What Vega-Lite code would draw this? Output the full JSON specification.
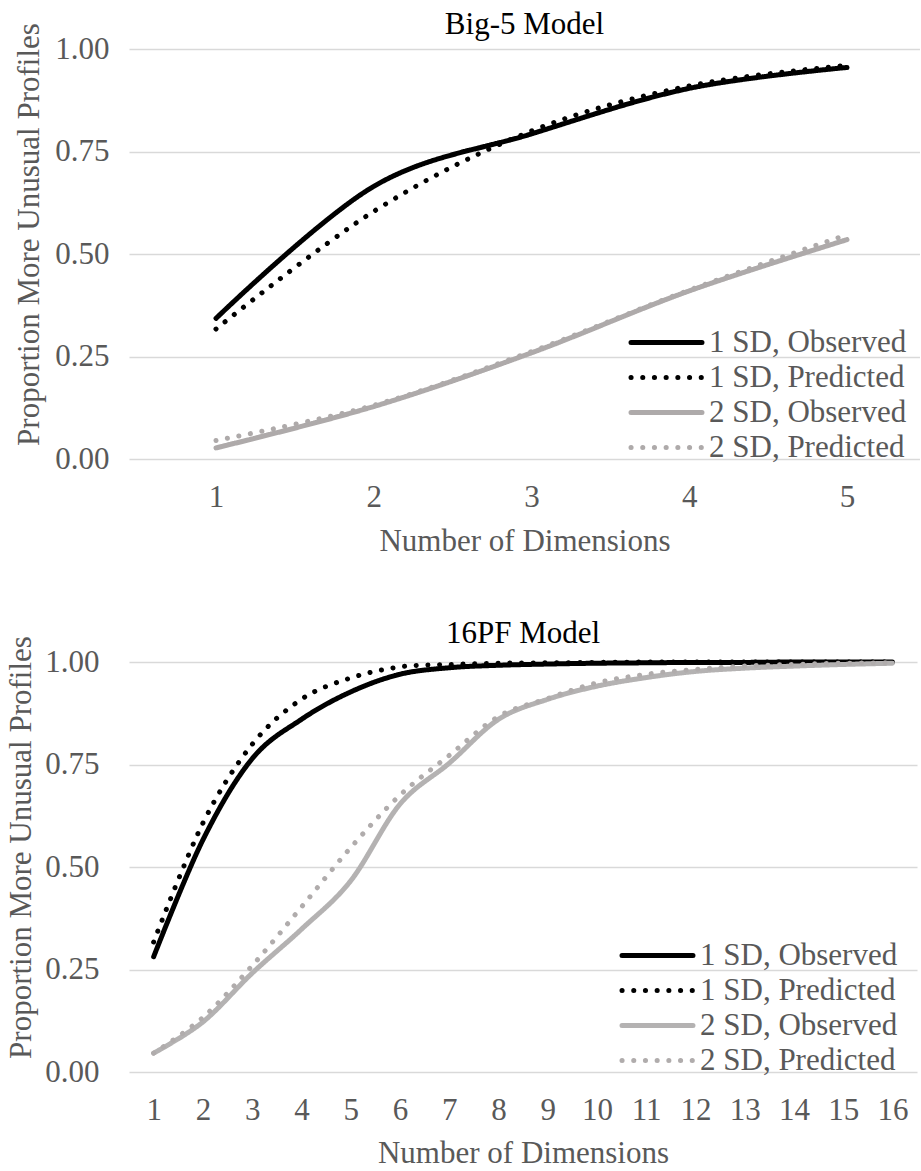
{
  "$schema": "https://vega.github.io/schema/vega-lite/v6.json",
  "background": "white",
  "padding": {"left": 5, "top": 8, "right": 0, "bottom": 0},
  "config": {
    "font": "Liberation Serif",
    "view": {"stroke": null},
    "title": {"font": "Liberation Serif", "fontSize": 31, "fontWeight": "normal", "color": "#000000", "baseline": "alphabetic", "anchor": "middle"},
    "axis": {"labelFont": "Liberation Serif", "titleFont": "Liberation Serif", "labelFontSize": 31, "titleFontSize": 31, "labelColor": "#595959", "titleColor": "#595959", "titleFontWeight": "normal", "domain": false, "ticks": false, "gridColor": "#d9d9d9", "gridWidth": 1.5},
    "legend": {"labelFont": "Liberation Serif", "labelFontSize": 31, "labelColor": "#595959", "labelLimit": 400, "symbolSize": 676, "symbolStrokeWidth": 5, "rowPadding": 3, "padding": 0, "title": null}
  },
  "datasets": {
    "big5": [
      {"x": 1, "series": "1 SD, Observed", "p": 0.343},
      {"x": 2, "series": "1 SD, Observed", "p": 0.665},
      {"x": 3, "series": "1 SD, Observed", "p": 0.793},
      {"x": 4, "series": "1 SD, Observed", "p": 0.904},
      {"x": 5, "series": "1 SD, Observed", "p": 0.955},
      {"x": 1, "series": "1 SD, Predicted", "p": 0.317},
      {"x": 2, "series": "1 SD, Predicted", "p": 0.604},
      {"x": 3, "series": "1 SD, Predicted", "p": 0.8},
      {"x": 4, "series": "1 SD, Predicted", "p": 0.91},
      {"x": 5, "series": "1 SD, Predicted", "p": 0.96},
      {"x": 1, "series": "2 SD, Observed", "p": 0.027},
      {"x": 2, "series": "2 SD, Observed", "p": 0.128},
      {"x": 3, "series": "2 SD, Observed", "p": 0.259},
      {"x": 4, "series": "2 SD, Observed", "p": 0.41},
      {"x": 5, "series": "2 SD, Observed", "p": 0.535},
      {"x": 1, "series": "2 SD, Predicted", "p": 0.045},
      {"x": 2, "series": "2 SD, Predicted", "p": 0.131},
      {"x": 3, "series": "2 SD, Predicted", "p": 0.262},
      {"x": 4, "series": "2 SD, Predicted", "p": 0.412},
      {"x": 5, "series": "2 SD, Predicted", "p": 0.547}
    ],
    "pf16": [
      {"x": 1, "series": "1 SD, Observed", "p": 0.281},
      {"x": 2, "series": "1 SD, Observed", "p": 0.566},
      {"x": 3, "series": "1 SD, Observed", "p": 0.764},
      {"x": 4, "series": "1 SD, Observed", "p": 0.86},
      {"x": 5, "series": "1 SD, Observed", "p": 0.927},
      {"x": 6, "series": "1 SD, Observed", "p": 0.97},
      {"x": 7, "series": "1 SD, Observed", "p": 0.986},
      {"x": 8, "series": "1 SD, Observed", "p": 0.992},
      {"x": 9, "series": "1 SD, Observed", "p": 0.995},
      {"x": 10, "series": "1 SD, Observed", "p": 0.997},
      {"x": 11, "series": "1 SD, Observed", "p": 0.998},
      {"x": 12, "series": "1 SD, Observed", "p": 0.999},
      {"x": 13, "series": "1 SD, Observed", "p": 0.999},
      {"x": 14, "series": "1 SD, Observed", "p": 1.0},
      {"x": 15, "series": "1 SD, Observed", "p": 1.0},
      {"x": 16, "series": "1 SD, Observed", "p": 1.0},
      {"x": 1, "series": "1 SD, Predicted", "p": 0.317},
      {"x": 2, "series": "1 SD, Predicted", "p": 0.607},
      {"x": 3, "series": "1 SD, Predicted", "p": 0.799},
      {"x": 4, "series": "1 SD, Predicted", "p": 0.909},
      {"x": 5, "series": "1 SD, Predicted", "p": 0.961},
      {"x": 6, "series": "1 SD, Predicted", "p": 0.988},
      {"x": 7, "series": "1 SD, Predicted", "p": 0.994},
      {"x": 8, "series": "1 SD, Predicted", "p": 0.997},
      {"x": 9, "series": "1 SD, Predicted", "p": 0.998},
      {"x": 10, "series": "1 SD, Predicted", "p": 0.999},
      {"x": 11, "series": "1 SD, Predicted", "p": 1.0},
      {"x": 12, "series": "1 SD, Predicted", "p": 1.0},
      {"x": 13, "series": "1 SD, Predicted", "p": 1.0},
      {"x": 14, "series": "1 SD, Predicted", "p": 1.0},
      {"x": 15, "series": "1 SD, Predicted", "p": 1.0},
      {"x": 16, "series": "1 SD, Predicted", "p": 1.0},
      {"x": 1, "series": "2 SD, Observed", "p": 0.046},
      {"x": 2, "series": "2 SD, Observed", "p": 0.122},
      {"x": 3, "series": "2 SD, Observed", "p": 0.241},
      {"x": 4, "series": "2 SD, Observed", "p": 0.348},
      {"x": 5, "series": "2 SD, Observed", "p": 0.466},
      {"x": 6, "series": "2 SD, Observed", "p": 0.653},
      {"x": 7, "series": "2 SD, Observed", "p": 0.753},
      {"x": 8, "series": "2 SD, Observed", "p": 0.86},
      {"x": 9, "series": "2 SD, Observed", "p": 0.909},
      {"x": 10, "series": "2 SD, Observed", "p": 0.941},
      {"x": 11, "series": "2 SD, Observed", "p": 0.962},
      {"x": 12, "series": "2 SD, Observed", "p": 0.977},
      {"x": 13, "series": "2 SD, Observed", "p": 0.985},
      {"x": 14, "series": "2 SD, Observed", "p": 0.99},
      {"x": 15, "series": "2 SD, Observed", "p": 0.994},
      {"x": 16, "series": "2 SD, Observed", "p": 0.997},
      {"x": 1, "series": "2 SD, Predicted", "p": 0.046},
      {"x": 2, "series": "2 SD, Predicted", "p": 0.133},
      {"x": 3, "series": "2 SD, Predicted", "p": 0.259},
      {"x": 4, "series": "2 SD, Predicted", "p": 0.402},
      {"x": 5, "series": "2 SD, Predicted", "p": 0.547},
      {"x": 6, "series": "2 SD, Predicted", "p": 0.675},
      {"x": 7, "series": "2 SD, Predicted", "p": 0.772},
      {"x": 8, "series": "2 SD, Predicted", "p": 0.867},
      {"x": 9, "series": "2 SD, Predicted", "p": 0.911},
      {"x": 10, "series": "2 SD, Predicted", "p": 0.949},
      {"x": 11, "series": "2 SD, Predicted", "p": 0.97},
      {"x": 12, "series": "2 SD, Predicted", "p": 0.982},
      {"x": 13, "series": "2 SD, Predicted", "p": 0.99},
      {"x": 14, "series": "2 SD, Predicted", "p": 0.994},
      {"x": 15, "series": "2 SD, Predicted", "p": 0.997},
      {"x": 16, "series": "2 SD, Predicted", "p": 0.998}
    ]
  },
  "resolve": {
    "scale": {"x": "independent", "y": "independent", "color": "independent", "strokeDash": "independent"},
    "legend": {"color": "independent", "strokeDash": "independent"}
  },
  "spacing": 61,
  "vconcat": [
    {
      "width": 791,
      "height": 410,
      "title": {"text": "Big-5 Model", "offset": -18},
      "data": {"name": "big5"},
      "mark": {"type": "line", "interpolate": "cardinal", "strokeWidth": 5, "strokeCap": "round", "strokeJoin": "round"},
      "encoding": {
        "x": {"field": "x", "type": "quantitative", "scale": {"domain": [0.4485, 5.4628], "nice": false, "zero": false},
              "axis": {"values": [1, 2, 3, 4, 5], "grid": false, "title": "Number of Dimensions", "labelPadding": 23, "titlePadding": 14, "format": "d"}},
        "y": {"field": "p", "type": "quantitative", "scale": {"domain": [0, 1], "nice": false},
              "axis": {"values": [0, 0.25, 0.5, 0.75, 1], "format": ".2f", "title": "Proportion More Unusual Profiles", "labelPadding": 20, "titlePadding": 9, "titleY": 185}},
        "color": {"field": "series", "type": "nominal",
                  "scale": {"domain": ["1 SD, Observed", "1 SD, Predicted", "2 SD, Observed", "2 SD, Predicted"], "range": ["#000000", "#000000", "#aeaaaa", "#aeaaaa"]},
                  "legend": {"orient": "none", "legendX": 502, "legendY": 278, "symbolType": "M-2.73,0H2.73", "encode": {"symbols": {"update": {"strokeCap": {"value": "round"}, "x": {"value": 35.5}}}, "labels": {"update": {"x": {"value": 78}}}}}},
        "strokeDash": {"field": "series", "type": "nominal",
                  "scale": {"domain": ["1 SD, Observed", "1 SD, Predicted", "2 SD, Observed", "2 SD, Predicted"], "range": [[1, 0], [0.1, 11.6], [1, 0], [0.1, 11.6]]},
                  "legend": {"orient": "none", "legendX": 502, "legendY": 278, "symbolType": "M-2.73,0H2.73", "encode": {"symbols": {"update": {"strokeCap": {"value": "round"}, "x": {"value": 35.5}}}, "labels": {"update": {"x": {"value": 78}}}}}}
      }
    },
    {
      "width": 788,
      "height": 410,
      "title": {"text": "16PF Model", "offset": -14},
      "data": {"name": "pf16"},
      "mark": {"type": "line", "interpolate": "cardinal", "strokeWidth": 5, "strokeCap": "round", "strokeJoin": "round"},
      "encoding": {
        "x": {"field": "x", "type": "quantitative", "scale": {"domain": [0.5, 16.5], "nice": false, "zero": false},
              "axis": {"values": [1, 2, 3, 4, 5, 6, 7, 8, 9, 10, 11, 12, 13, 14, 15, 16], "grid": false, "title": "Number of Dimensions", "labelPadding": 23, "titlePadding": 13, "format": "d"}},
        "y": {"field": "p", "type": "quantitative", "scale": {"domain": [0, 1], "nice": false},
              "axis": {"values": [0, 0.25, 0.5, 0.75, 1], "format": ".2f", "title": "Proportion More Unusual Profiles", "labelPadding": 30, "titlePadding": 7, "titleY": 185}},
        "color": {"field": "series", "type": "nominal",
                  "scale": {"domain": ["1 SD, Observed", "1 SD, Predicted", "2 SD, Observed", "2 SD, Predicted"], "range": ["#000000", "#000000", "#b4b2b2", "#b0acac"]},
                  "legend": {"orient": "none", "legendX": 493, "legendY": 278, "symbolType": "M-2.73,0H2.73", "encode": {"symbols": {"update": {"strokeCap": {"value": "round"}, "x": {"value": 35.5}}}, "labels": {"update": {"x": {"value": 78}}}}}},
        "strokeDash": {"field": "series", "type": "nominal",
                  "scale": {"domain": ["1 SD, Observed", "1 SD, Predicted", "2 SD, Observed", "2 SD, Predicted"], "range": [[1, 0], [0.1, 11.6], [1, 0], [0.1, 11.6]]},
                  "legend": {"orient": "none", "legendX": 493, "legendY": 278, "symbolType": "M-2.73,0H2.73", "encode": {"symbols": {"update": {"strokeCap": {"value": "round"}, "x": {"value": 35.5}}}, "labels": {"update": {"x": {"value": 78}}}}}}
      }
    }
  ]
}
